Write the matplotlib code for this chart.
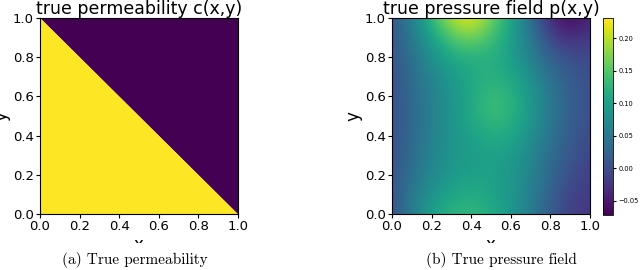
import numpy as np
import matplotlib
matplotlib.use("Agg")
import matplotlib.pyplot as plt
from matplotlib.patches import Rectangle

# permeability: yellow (c=1) below the diagonal, purple (c=0) above
perm_x = [0.0, 1.0]
perm_boundary = [1.0, 0.0]

# pressure field on a 11x11 grid (rows y=0..1, cols x=0..1)
grid_x = [0.0, 0.1, 0.2, 0.3, 0.4, 0.5, 0.6, 0.7, 0.8, 0.9, 1.0]
grid_y = [0.0, 0.1, 0.2, 0.3, 0.4, 0.5, 0.6, 0.7, 0.8, 0.9, 1.0]
pressure = [
    [0.005, 0.055, 0.10, 0.125, 0.13, 0.115, 0.09, 0.055, 0.015, -0.015, -0.025],
    [0.005, 0.05, 0.085, 0.105, 0.115, 0.105, 0.09, 0.06, 0.02, -0.01, -0.02],
    [0.005, 0.04, 0.07, 0.09, 0.10, 0.10, 0.09, 0.065, 0.03, 0.0, -0.015],
    [0.005, 0.035, 0.065, 0.085, 0.095, 0.10, 0.095, 0.07, 0.035, 0.01, -0.01],
    [0.005, 0.03, 0.06, 0.085, 0.10, 0.115, 0.11, 0.08, 0.045, 0.015, -0.005],
    [0.005, 0.03, 0.06, 0.085, 0.11, 0.135, 0.125, 0.09, 0.05, 0.02, 0.0],
    [0.005, 0.03, 0.06, 0.085, 0.11, 0.135, 0.125, 0.09, 0.05, 0.02, 0.0],
    [0.005, 0.035, 0.065, 0.09, 0.11, 0.12, 0.11, 0.08, 0.04, 0.015, 0.0],
    [0.005, 0.04, 0.08, 0.11, 0.12, 0.12, 0.10, 0.06, 0.02, 0.0, -0.005],
    [0.01, 0.05, 0.10, 0.15, 0.17, 0.14, 0.10, 0.05, -0.01, -0.035, -0.02],
    [0.01, 0.06, 0.13, 0.20, 0.225, 0.17, 0.11, 0.04, -0.04, -0.07, -0.04],
]
p_min, p_max = -0.072, 0.231
cbar_ticks = [-0.05, 0.0, 0.05, 0.10, 0.15, 0.20]

fig = plt.figure(figsize=(6.4, 2.7), dpi=100)
cmap = plt.get_cmap("viridis")

# (a) permeability
ax1 = fig.add_axes([0.0625, 0.2074, 0.309, 0.726])
ax1.fill_between(perm_x, perm_boundary, 1.0, color=cmap(0.0), linewidth=0)
ax1.fill_between(perm_x, 0.0, perm_boundary, color=cmap(1.0), linewidth=0)
ax1.set_title("true permeability c(x,y)", fontsize=12.5, pad=2)

# (b) pressure
ax2 = fig.add_axes([0.6125, 0.2074, 0.309, 0.726])
dx = (grid_x[1] - grid_x[0]) / 2
dy = (grid_y[1] - grid_y[0]) / 2
im = ax2.imshow(np.array(pressure), origin="lower", cmap="viridis",
                extent=(grid_x[0] - dx, grid_x[-1] + dx, grid_y[0] - dy, grid_y[-1] + dy),
                interpolation="bicubic", vmin=p_min, vmax=p_max, aspect="auto")
ax2.set_title("true pressure field p(x,y)", fontsize=12.5, pad=2)

for ax in (ax1, ax2):
    ax.set_xlim(0, 1)
    ax.set_ylim(0, 1)
    ax.set_xticks([0.0, 0.2, 0.4, 0.6, 0.8, 1.0])
    ax.set_yticks([0.0, 0.2, 0.4, 0.6, 0.8, 1.0])
    ax.tick_params(labelsize=9.5, length=3, pad=1.5)
    ax.set_xlabel("x", fontsize=12, labelpad=2)
    ax.set_ylabel("y", fontsize=12, labelpad=2)

cax = fig.add_axes([0.942, 0.2037, 0.0156, 0.73])
cb = fig.colorbar(im, cax=cax, ticks=cbar_ticks)
cb.ax.tick_params(labelsize=4.8, length=2.5, pad=1.5)
cb.outline.set_linewidth(0.6)

# subfigure captions sit over the cropped x labels
fig.patches.append(Rectangle((0, 0), 1, 0.1, transform=fig.transFigure,
                             facecolor="white", edgecolor="none", zorder=5))
fig.text(0.211, 0.037, "(a) True permeability", family="cmr10", fontsize=11,
         ha="center", va="center", zorder=6)
fig.text(0.784, 0.037, "(b) True pressure field", family="cmr10", fontsize=11,
         ha="center", va="center", zorder=6)

fig.savefig("out.png", dpi=100)
